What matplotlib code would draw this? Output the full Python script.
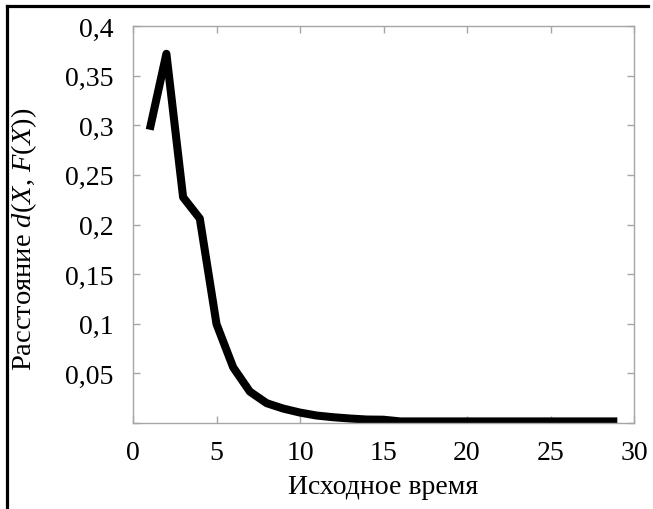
import matplotlib
matplotlib.use('Agg')
import matplotlib.pyplot as plt
from matplotlib.lines import Line2D
from matplotlib.ticker import FuncFormatter, MultipleLocator

plt.rcParams['font.family'] = ['Liberation Serif', 'DejaVu Serif']
plt.rcParams['mathtext.fontset'] = 'custom'
plt.rcParams['mathtext.rm'] = 'Liberation Serif'
plt.rcParams['mathtext.it'] = 'Liberation Serif:italic'

# initial time vs distance
t = [1, 2, 3, 4, 5, 6, 7, 8, 9, 10, 11, 12, 13, 14, 15, 16, 17, 18, 19, 20,
     21, 22, 23, 24, 25, 26, 27, 28, 29]
dist = [0.2955, 0.372, 0.2275, 0.206, 0.0997, 0.056, 0.0316, 0.020, 0.0145, 0.0105,
        0.0075, 0.0058, 0.0045, 0.0035, 0.0033, 0.0016, 0.0016, 0.0016, 0.0016, 0.0016,
        0.0016, 0.0016, 0.0016, 0.0016, 0.0016, 0.0016, 0.0016, 0.0016, 0.0016]

fig = plt.figure(figsize=(6.53, 5.10), dpi=100)
ax = fig.add_axes([133 / 653, 1 - 424 / 510, (634 - 133) / 653, (424 - 27) / 510])

ax.plot(t, dist, color='black', lw=5.8, solid_capstyle='butt', solid_joinstyle='round')
ax.set_xlim(0, 30)
ax.set_ylim(0, 0.4)

ax.xaxis.set_major_locator(MultipleLocator(5))
ax.yaxis.set_major_locator(MultipleLocator(0.05))
ax.xaxis.set_major_formatter(FuncFormatter(lambda v, p: f'{v:g}'))
ax.yaxis.set_major_formatter(FuncFormatter(lambda v, p: '' if abs(v) < 1e-9 else f'{v:g}'.replace('.', ',')))

for s in ax.spines.values():
    s.set_color('#a6a6a6')
    s.set_linewidth(1.0)
ax.tick_params(direction='in', length=5, width=1, color='#a6a6a6',
               top=True, right=True, labelsize=20, labelcolor='black')
ax.tick_params(axis='x', pad=12)
ax.tick_params(axis='y', pad=14)

ax.set_xlabel('Исходное время', fontsize=20, labelpad=7)
ax.set_ylabel(r'Расстояние $d$($X$, $F$($X$))', fontsize=20.5)
ax.yaxis.set_label_coords(-0.187, 0.466)

# outer frame (top and left only)
fig.add_artist(Line2D([7 / 653, 648 / 653], [1 - 7 / 510, 1 - 7 / 510], color='black', lw=2.3,
                      transform=fig.transFigure))
fig.add_artist(Line2D([7 / 653, 7 / 653], [1 - 7 / 510, 0], color='black', lw=2.3,
                      transform=fig.transFigure))

fig.savefig('out.png', dpi=100)
